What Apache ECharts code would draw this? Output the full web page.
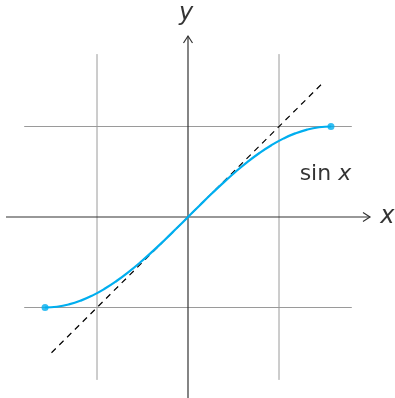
<!DOCTYPE html>
<html>
<head>
<meta charset="utf-8">
<style>
  html, body { margin: 0; padding: 0; background: #fff; }
  #chart { width: 395px; height: 398px; }
</style>
<script src="https://cdn.jsdelivr.net/npm/echarts@6/dist/echarts.min.js"></script>
</head>
<body>
<div id="chart"></div>
<script>
// sin x sampled on [-pi/2, pi/2]
const curveX = [-1.5708, -1.4399, -1.3090, -1.1781, -1.0472, -0.9163, -0.7854, -0.6545, -0.5236, -0.3927, -0.2618, -0.1309,
                0, 0.1309, 0.2618, 0.3927, 0.5236, 0.6545, 0.7854, 0.9163, 1.0472, 1.1781, 1.3090, 1.4399, 1.5708];
const curveY = [-1.0000, -0.9914, -0.9659, -0.9239, -0.8660, -0.7934, -0.7071, -0.6088, -0.5000, -0.3827, -0.2588, -0.1305,
                0, 0.1305, 0.2588, 0.3827, 0.5000, 0.6088, 0.7071, 0.7934, 0.8660, 0.9239, 0.9659, 0.9914, 1.0000];

// tangent line y = x at the origin
const tangentX = [-1.5, 1.5];
const tangentY = [-1.5, 1.5];

// helper grid at ±1
const gridLevels = [-1, 1];
const gridExtent = [-1.8, 1.8];

// coordinate axes with arrows: [x0, y0, x1, y1]
const axisSegments = [[-2, 0, 2, 0], [0, -2, 0, 2]];

// labels: [x, y, text]
const axisLabels = [[2.19, 0, 'x'], [-0.02, 2.25, 'y']];
const curveLabel = [1.51, 0.47, 'sin x'];

const chart = echarts.init(document.getElementById('chart'));

const curveData = curveX.map((x, i) => [x, curveY[i]]);
const tangentData = tangentX.map((x, i) => [x, tangentY[i]]);

const gridLines = [];
gridLevels.forEach(v => {
  gridLines.push([v, gridExtent[0], v, gridExtent[1]]);
  gridLines.push([gridExtent[0], v, gridExtent[1], v]);
});

const FONT = 'DejaVu Sans';

chart.setOption({
  animation: false,
  grid: { left: 6, right: 25, top: 36, bottom: 0 },
  xAxis: { type: 'value', min: -2, max: 2, show: false },
  yAxis: { type: 'value', min: -2, max: 2, show: false },
  series: [
    {
      // thin gray helper lines
      type: 'custom',
      silent: true,
      clip: false,
      z: 1,
      data: gridLines,
      renderItem: (params, api) => {
        const a = api.coord([api.value(0), api.value(1)]);
        const b = api.coord([api.value(2), api.value(3)]);
        return {
          type: 'line',
          shape: { x1: a[0], y1: a[1], x2: b[0], y2: b[1] },
          style: { stroke: '#9a9a9a', lineWidth: 1 }
        };
      }
    },
    {
      // axes with open arrowheads
      type: 'custom',
      silent: true,
      clip: false,
      z: 2,
      data: axisSegments,
      renderItem: (params, api) => {
        const a = api.coord([api.value(0), api.value(1)]);
        const b = api.coord([api.value(2), api.value(3)]);
        const dx = b[0] - a[0], dy = b[1] - a[1];
        const len = Math.hypot(dx, dy);
        const ux = dx / len, uy = dy / len;
        const px = -uy, py = ux;
        const back = 7, half = 4.5;
        const p1 = [b[0] - ux * back + px * half, b[1] - uy * back + py * half];
        const p2 = [b[0] - ux * back - px * half, b[1] - uy * back - py * half];
        return {
          type: 'group',
          children: [
            {
              type: 'line',
              shape: { x1: a[0], y1: a[1], x2: b[0], y2: b[1] },
              style: { stroke: '#333', lineWidth: 1.2 }
            },
            {
              type: 'polyline',
              shape: { points: [p1, b, p2] },
              style: { stroke: '#333', lineWidth: 1.2, fill: null }
            }
          ]
        };
      }
    },
    {
      type: 'line',
      data: tangentData,
      z: 3,
      symbol: 'none',
      silent: true,
      lineStyle: { color: '#000', width: 1.2, type: [6, 5] }
    },
    {
      type: 'line',
      data: curveData,
      z: 4,
      smooth: true,
      symbol: 'none',
      silent: true,
      lineStyle: { color: '#00aeef', width: 2.2 }
    },
    {
      // endpoint dots
      type: 'scatter',
      z: 5,
      silent: true,
      data: [curveData[0], curveData[curveData.length - 1]],
      symbolSize: 7,
      itemStyle: { color: '#00aeef' }
    },
    {
      type: 'scatter',
      z: 6,
      silent: true,
      clip: false,
      symbolSize: 0,
      data: axisLabels.map(d => ({ value: [d[0], d[1]], name: d[2] })),
      label: {
        show: true,
        position: 'inside',
        formatter: p => p.name,
        fontFamily: FONT,
        fontStyle: 'italic',
        fontSize: 24,
        color: '#000'
      }
    },
    {
      type: 'scatter',
      z: 6,
      silent: true,
      clip: false,
      symbolSize: 0,
      data: [{ value: [curveLabel[0], curveLabel[1]], name: curveLabel[2] }],
      label: {
        show: true,
        position: 'inside',
        formatter: p => {
          const parts = p.name.split(' ');
          return '{r|' + parts[0] + ' }{i|' + parts[1] + '}';
        },
        rich: {
          r: { fontFamily: FONT, fontSize: 22, color: '#000' },
          i: { fontFamily: FONT, fontSize: 22, fontStyle: 'italic', color: '#000' }
        }
      }
    }
  ]
});
</script>
</body>
</html>
